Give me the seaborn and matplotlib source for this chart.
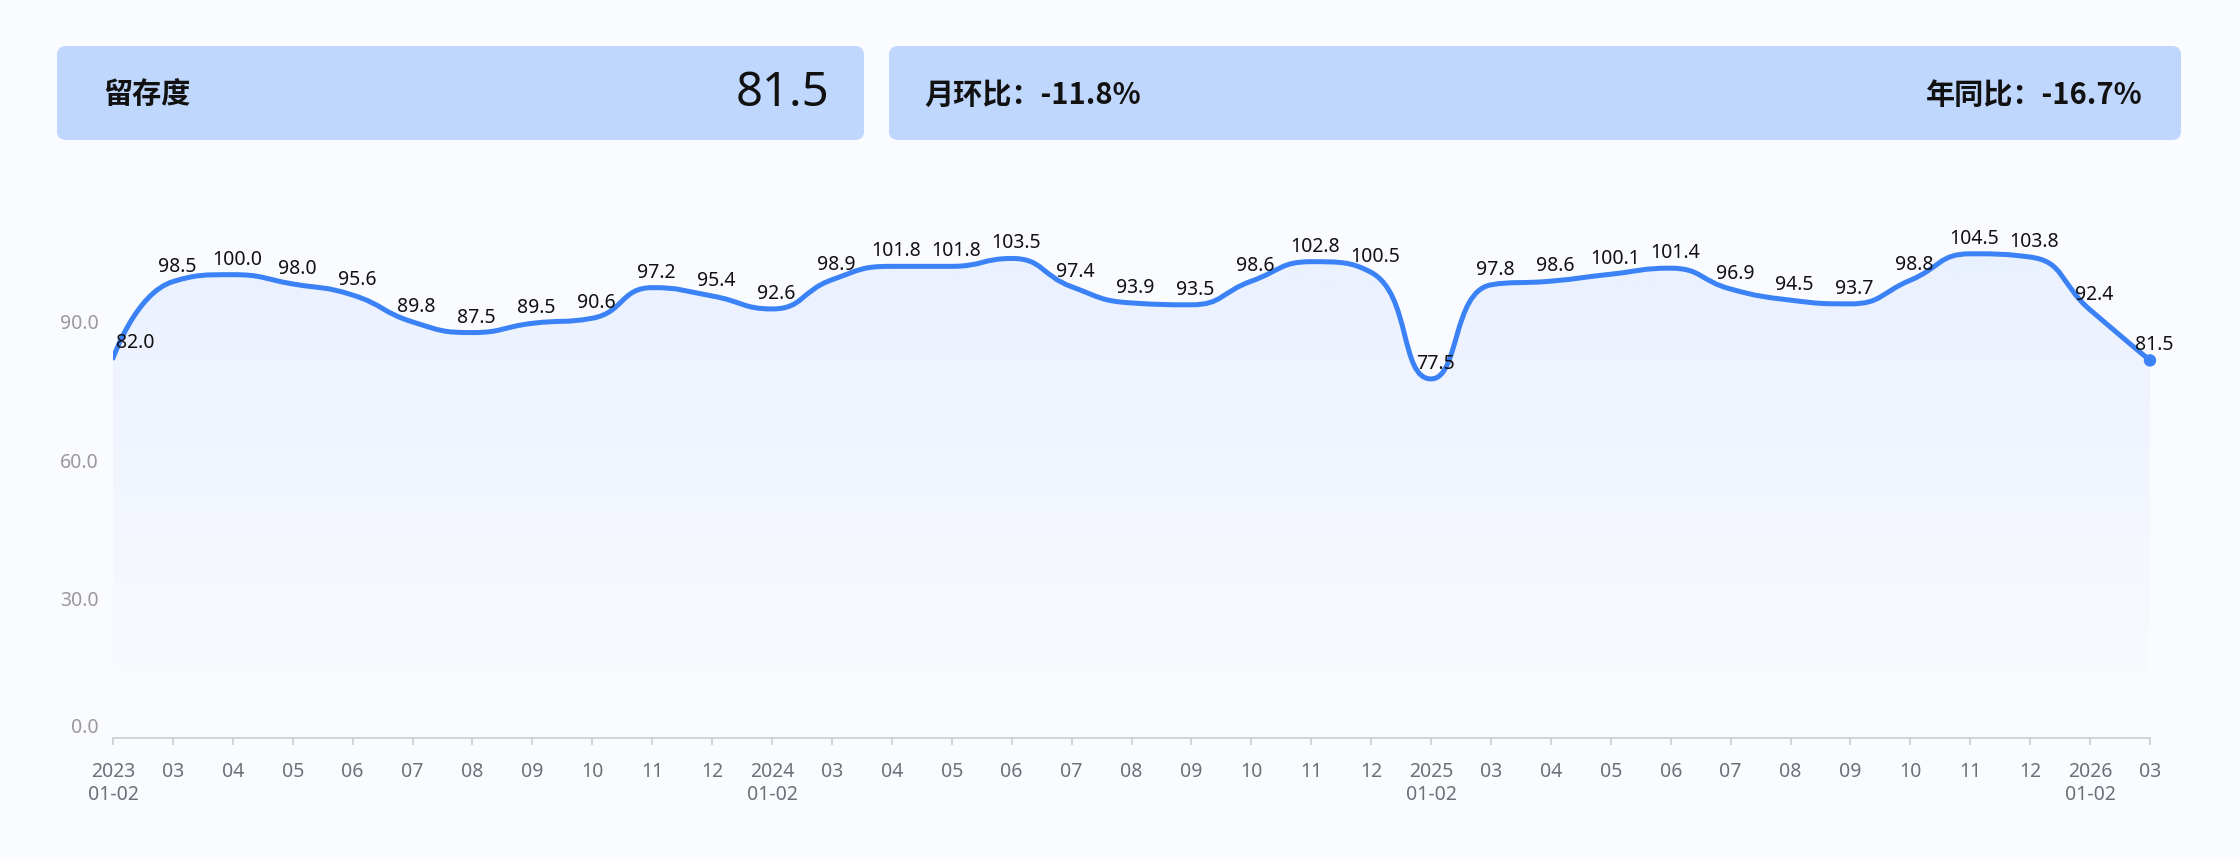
import numpy as np
import pandas as pd

import matplotlib
matplotlib.use('Agg')
import matplotlib.pyplot as plt
from matplotlib.path import Path
from matplotlib.patches import PathPatch, FancyBboxPatch
import seaborn as sns

# ---- data ----
years = ["2023", "2024", "2025", "2026"]
months = ["01-02", "03", "04", "05", "06", "07", "08", "09", "10", "11", "12"]
values = [82.0, 98.5, 100.0, 98.0, 95.6, 89.8, 87.5, 89.5, 90.6, 97.2, 95.4,
          92.6, 98.9, 101.8, 101.8, 103.5, 97.4, 93.9, 93.5, 98.6, 102.8, 100.5,
          77.5, 97.8, 98.6, 100.1, 101.4, 96.9, 94.5, 93.7, 98.8, 104.5, 103.8,
          92.4, 81.5]
y_ticks = [0, 30, 60, 90]

metric_name = "留存度"
metric_value = "81.5"
mom_text = "月环比：-11.8%"
yoy_text = "年同比：-16.7%"

x_labels = []
for y in years:
    for m in months:
        x_labels.append(f"{y}\n{m}" if m == "01-02" else m)
x_labels = x_labels[:len(values)]

df = pd.DataFrame({"idx": np.arange(len(values)), "value": values, "label": x_labels})

# ---- style ----
sns.set_theme(style="white")
plt.rcParams['font.family'] = ['Noto Sans', 'Noto Sans CJK SC', 'DejaVu Sans']

BG = '#fafbff'
BLUE = '#3b82f6'
BOX = '#bfd6fd'

W, H = 2240, 860
fig = plt.figure(figsize=(W / 100, H / 100), dpi=100, facecolor=BG)

left, right, top, bottom = 113, 2150, 182, 738
ax = fig.add_axes([left / W, 1 - bottom / H, (right - left) / W, (bottom - top) / H])
ax.set_facecolor('none')
xmax = len(values) - 1
ymax = 120
ax.set_xlim(0, xmax)
ax.set_ylim(0, ymax)

# smooth path (echarts-like bezier), computed in pixel space
sx = (right - left) / xmax
sy = (bottom - top) / ymax
xs = df["idx"].to_numpy(float)
ys = df["value"].to_numpy(float)
px, py = xs * sx, ys * sy
n = len(px)
smooth = 0.5
cin = [(px[i], py[i]) for i in range(n)]
cout = [(px[i], py[i]) for i in range(n)]
for i in range(1, n - 1):
    d0 = np.hypot(px[i] - px[i - 1], py[i] - py[i - 1])
    d1 = np.hypot(px[i + 1] - px[i], py[i + 1] - py[i])
    r = d1 / (d0 + d1)
    vx = px[i + 1] - px[i - 1]
    vy = py[i + 1] - py[i - 1]
    cox = np.clip(px[i] + vx * smooth * r, min(px[i], px[i + 1]), max(px[i], px[i + 1]))
    coy = np.clip(py[i] + vy * smooth * r, min(py[i], py[i + 1]), max(py[i], py[i + 1]))
    vx, vy = cox - px[i], coy - py[i]
    cix = np.clip(px[i] - vx * d0 / d1, min(px[i - 1], px[i]), max(px[i - 1], px[i]))
    ciy = np.clip(py[i] - vy * d0 / d1, min(py[i - 1], py[i]), max(py[i - 1], py[i]))
    vx, vy = px[i] - cix, py[i] - ciy
    cox, coy = px[i] + vx * d1 / d0, py[i] + vy * d1 / d0
    cin[i] = (cix, ciy)
    cout[i] = (cox, coy)

verts = [(xs[0], ys[0])]
codes = [Path.MOVETO]
for i in range(n - 1):
    verts += [(cout[i][0] / sx, cout[i][1] / sy), (cin[i + 1][0] / sx, cin[i + 1][1] / sy), (xs[i + 1], ys[i + 1])]
    codes += [Path.CURVE4] * 3
line_path = Path(verts, codes)
area_path = Path(verts + [(xs[-1], 0), (xs[0], 0), (xs[0], ys[0])],
                 codes + [Path.LINETO, Path.LINETO, Path.CLOSEPOLY])

# gradient area
area = PathPatch(area_path, facecolor='none', edgecolor='none')
ax.add_patch(area)
grad = np.zeros((256, 1, 4))
rgb = matplotlib.colors.to_rgb(BLUE)
grad[..., 0], grad[..., 1], grad[..., 2] = rgb
grad[:, 0, 3] = np.linspace(0.0, 0.085, 256)
im = ax.imshow(grad, extent=[0, xmax, 0, max(values)], origin='lower', aspect='auto', zorder=1)
im.set_clip_path(area)

ax.add_patch(PathPatch(line_path, facecolor='none', edgecolor=BLUE, lw=3.6,
                       capstyle='round', joinstyle='round', zorder=3))
sns.scatterplot(data=df.tail(1), x="idx", y="value", ax=ax, s=80, color=BLUE,
                edgecolor='none', zorder=4, clip_on=False)

# data labels
for i, v in enumerate(values):
    dx = 16 if i == 0 else 3
    ax.annotate(f"{v:.1f}", (i, v), xytext=(dx, 7.2), textcoords='offset points',
                ha='center', va='baseline', fontsize=14, color='#111111', zorder=5)

ax.set_xlim(0, xmax)
ax.set_ylim(0, ymax)
ax.set_xticks(df["idx"])
ax.set_xticklabels(df["label"], linespacing=1.2)
ax.set_yticks(y_ticks)
ax.set_yticklabels([f"{t:.1f}" for t in y_ticks])
ax.yaxis.get_majorticklabels()[0].set_va('bottom')
ax.set_xlabel("")
ax.set_ylabel("")
ax.grid(False)
for s in ['top', 'right', 'left']:
    ax.spines[s].set_visible(False)
ax.spines['bottom'].set_color('#c8c9cc')
ax.spines['bottom'].set_linewidth(1.1)
ax.tick_params(axis='x', length=5, width=1.1, color='#c8c9cc', labelcolor='#6e7079',
               labelsize=14, pad=12, bottom=True, direction='out')
ax.tick_params(axis='y', length=0, labelcolor='#9a9a9a', labelsize=14, pad=10)

# ---- header cards ----
hdr = fig.add_axes([0, 0, 1, 1], zorder=-1)
hdr.set_xlim(0, W)
hdr.set_ylim(H, 0)
hdr.axis('off')
hdr.add_patch(FancyBboxPatch((57, 46), 807, 94, boxstyle="round,pad=0,rounding_size=9",
                             fc=BOX, ec='none'))
hdr.add_patch(FancyBboxPatch((889, 46), 1292, 94, boxstyle="round,pad=0,rounding_size=9",
                             fc=BOX, ec='none'))
cjk = ['Noto Sans CJK SC', 'DejaVu Sans']
hdr.text(103, 95, metric_name, fontsize=21, color='#111111', va='center', ha='left',
         fontweight='bold', family=cjk)
hdr.text(829, 94, metric_value, fontsize=34, color='#111111', va='center', ha='right')
hdr.text(924, 95, mom_text, fontsize=21, color='#111111', va='center', ha='left',
         fontweight='bold', family=cjk)
hdr.text(2143, 95, yoy_text, fontsize=21, color='#111111', va='center', ha='right',
         fontweight='bold', family=cjk)

fig.savefig("out.png", dpi=100, facecolor=BG)
plt.close()
